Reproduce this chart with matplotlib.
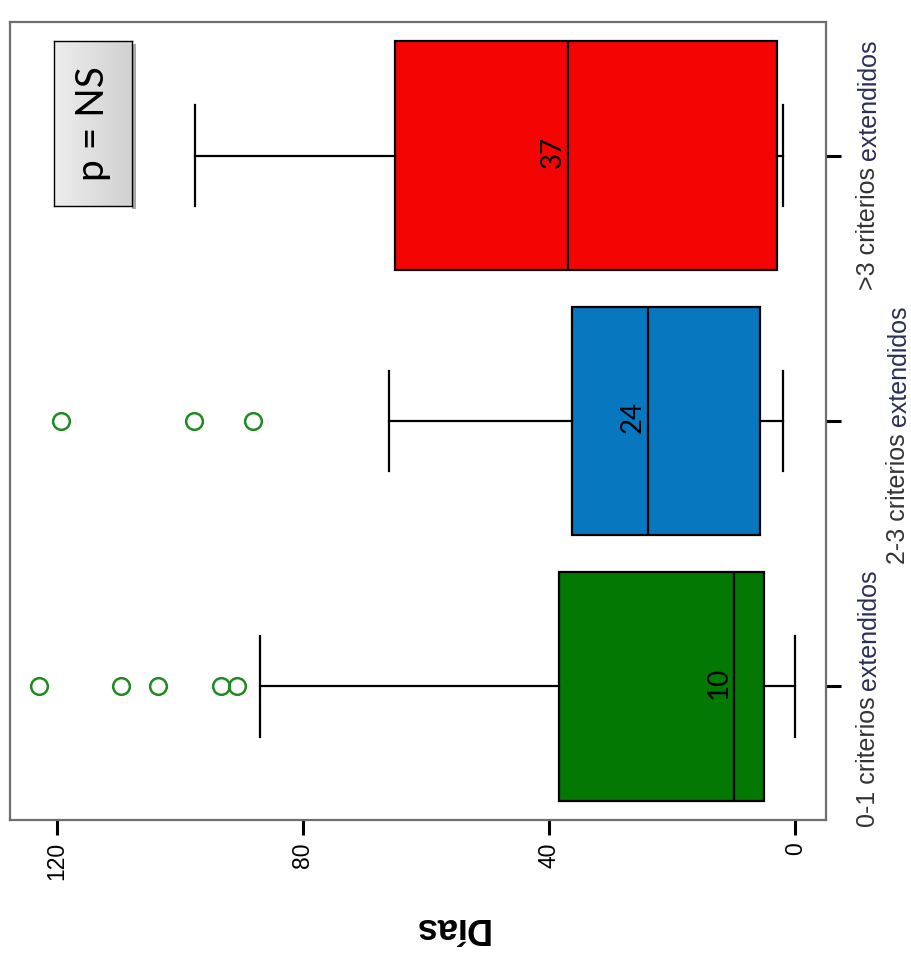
import matplotlib
matplotlib.use('Agg')
import matplotlib.pyplot as plt
import matplotlib.transforms as mtransforms
from matplotlib.patches import Rectangle
import numpy as np

# ---- data ----
categories = ['0-1 criterios extendidos', '2-3 criterios extendidos', '>3 criterios extendidos']
cat_prefix = ['0-1 criterios', '2-3 criterios', '>3 criterios']
cat_suffix = 'extendidos'
medians = [10, 24, 37]
q1 = [5.0, 5.7, 2.9]
q3 = [38.4, 36.3, 65.0]
whislo = [0, 2, 2]
whishi = [87, 66, 97.6]
fliers = [[90.7, 93.3, 103.6, 109.6, 122.9], [88.1, 97.7, 119.3], []]
box_colors = ['#037803', '#0777bf', '#f50404']
value_ticks = [0, 40, 80, 120]
value_ticklabels = ['0', '40', '80', '120']
y_label = 'Días'
p_text = 'p = NS'

W, H = 911, 957
fig = plt.figure(figsize=(W / 100, H / 100), dpi=100)
ax = fig.add_axes([10 / W, 1 - 820 / H, 816 / W, 798 / H])

sans = ['Liberation Sans', 'DejaVu Sans']
positions = [1, 2, 3]
stats = [dict(med=m, q1=a, q3=b, whislo=lo, whishi=hi, fliers=f)
         for m, a, b, lo, hi, f in zip(medians, q1, q3, whislo, whishi, fliers)]

lw = 1.6
bp = ax.bxp(stats, positions=positions, widths=0.86, orientation='horizontal',
            patch_artist=True, showfliers=True, capwidths=0.38,
            boxprops=dict(edgecolor='black', linewidth=lw),
            medianprops=dict(color='black', linewidth=lw),
            whiskerprops=dict(color='black', linewidth=lw),
            capprops=dict(color='black', linewidth=lw),
            flierprops=dict(marker='o', markerfacecolor='none',
                            markeredgecolor='#1f8a1f', markersize=12,
                            markeredgewidth=1.8, linestyle='none'))
for patch, c in zip(bp['boxes'], box_colors):
    patch.set_facecolor(c)

ax.set_xlim(127.6, -5.0)
ax.set_ylim(0.497, 3.503)

for s in ax.spines.values():
    s.set_color('#6e6e6e')
    s.set_linewidth(1.6)

ax.set_xticks(value_ticks)
ax.set_xticklabels(value_ticklabels, rotation=90, family=sans, fontsize=16.5, va='top')
ax.tick_params(axis='x', length=11, width=2.2, color='black', pad=5)
ax.yaxis.tick_right()
ax.set_yticks(positions)
ax.set_yticklabels([])
ax.tick_params(axis='y', length=11, width=2.2, color='black')

ax.set_xlabel(y_label, rotation=180, fontsize=26, fontweight='bold',
              family=sans, ha='center', va='center')
ax.xaxis.set_label_coords((451 - 10) / 816, -(927 - 820) / 798)

# median labels
for m, p in zip(medians, positions):
    ax.annotate(str(m), xy=(m, p), xytext=(-2, 4), textcoords='offset pixels',
                rotation=90, ha='right', va='center', fontsize=20,
                family=['Lato', 'DejaVu Sans'], color='black')

# category labels (two fonts)
trans = mtransforms.blended_transform_factory(ax.transAxes, ax.transData)
x_off = [42, 72, 42]
y_start = [-141, -143, -134]
prefix_texts = []
for i, p in enumerate(positions):
    t = ax.annotate(cat_prefix[i] + ' ', xy=(1, p), xycoords=trans,
                    xytext=(x_off[i], y_start[i]), textcoords='offset pixels',
                    rotation=90, ha='center', va='bottom', fontsize=18,
                    family=sans, color='#333333', annotation_clip=False)
    prefix_texts.append(t)
fig.canvas.draw()
r = fig.canvas.get_renderer()
for i, p in enumerate(positions):
    bb = prefix_texts[i].get_window_extent(r)
    ax.annotate(cat_suffix, xy=(1, p), xycoords=trans,
                xytext=(x_off[i] + 1, y_start[i] + bb.height), textcoords='offset pixels',
                rotation=90, ha='center', va='bottom', fontsize=18,
                family=sans, color='#2a2d55', annotation_clip=False)

# p = NS box
shadow = Rectangle((132 / W, 1 - 209 / H), 4 / W, 165 / H, transform=fig.transFigure,
                   facecolor='#a8a8a8', edgecolor='none', zorder=5)
fig.add_artist(shadow)
pax = fig.add_axes([54 / W, 1 - 206 / H, 78 / W, 165 / H], zorder=6)
grad = np.linspace(0.93, 0.82, 64).reshape(1, -1)
pax.imshow(np.dstack([grad, grad, grad]), aspect='auto', extent=[0, 1, 0, 1])
pax.set_xlim(0, 1); pax.set_ylim(0, 1)
pax.set_xticks([]); pax.set_yticks([])
for s in pax.spines.values():
    s.set_color('black'); s.set_linewidth(1.0)
pax.text(0.5, 0.5, p_text, rotation=90, ha='center', va='center', fontsize=28,
         family=['Lato', 'DejaVu Sans'], color='black')

fig.savefig('out.png', dpi=100)
